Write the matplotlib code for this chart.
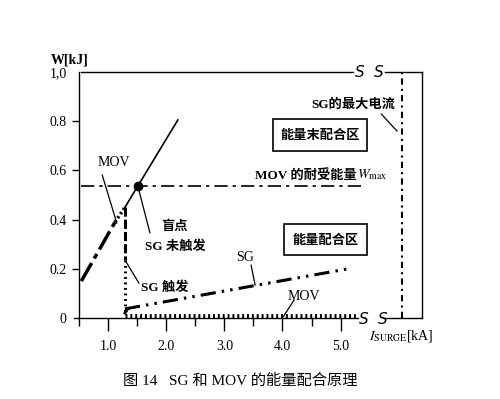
import matplotlib.pyplot as plt

plt.rcParams['font.family'] = ['Liberation Serif', 'Noto Sans CJK SC', 'DejaVu Sans']
plt.rcParams['mathtext.fontset'] = 'stix'

# MOV energy curve (before SG triggers)
mov_x = [0.54, 1.12, 1.29, 2.2]
mov_y = [0.15, 0.39, 0.45, 0.805]
# energy drop when SG fires at I = 1.29 kA
drop_x = 1.29
drop_y = [0.45, 0.235, 0.02]
# SG energy after firing
sg_x = [1.29, 5.2]
sg_y = [0.037, 0.203]
# MOV energy after SG fired
mov_low_x = [1.29, 5.3]
mov_low_y = [0.01, 0.01]
# MOV max energy Wmax and SG max current
w_max = 0.535
w_max_end = 5.38
sg_max_current = 6.06
blind_point = (1.51, 0.535)

x_major = [1.0, 2.0, 3.0, 4.0, 5.0]
x_minor = [0.5, 1.5, 2.5, 3.5, 4.5]
y_major = [0.2, 0.4, 0.6, 0.8]
y_major_labels = ['0.2', '0.4', '0.6', '0.8']

fig = plt.figure(figsize=(5, 3.99), dpi=100)
ax = fig.add_axes([0.158, 0.203, 0.686, 0.6165])
xmin, xmax = 0.54, 6.40
ax.set_xlim(xmin, xmax)
ax.set_ylim(0, 1.0)

for s in ['top', 'right', 'bottom']:
    ax.spines[s].set_visible(False)
ax.spines['left'].set_linewidth(1.0)

# frame with breaks
k = dict(color='black', lw=1.0, clip_on=False)
ax.plot([xmin - 0.12, 5.3], [0, 0], **k)
ax.plot([5.77, xmax], [0, 0], **k)
ax.plot([xmin, 5.22], [1, 1], **k)
ax.plot([5.77, xmax], [1, 1], **k)
ax.plot([xmax, xmax], [0, 1], **k)
for bx in [5.33, 5.66]:
    ax.text(bx, 1.0, 'S', fontsize=11, ha='center', va='center', family='DejaVu Sans', style='italic')
    ax.text(bx + 0.06, -0.008, 'S', fontsize=11, ha='center', va='center', family='DejaVu Sans', style='italic')

ax.set_xticks(x_major)
ax.set_xticklabels(['1.0', '2.0', '3.0', '4.0', '5.0'])
ax.set_xticks(x_minor, minor=True)
ax.tick_params(axis='x', which='major', direction='out', length=9, width=1, pad=7, labelsize=10)
ax.tick_params(axis='x', which='minor', direction='out', length=6, width=1)
ax.set_yticks(y_major)
ax.set_yticklabels(y_major_labels)
ax.set_yticks([0.0, 1.0], minor=True)
ax.set_yticklabels(['0', '1,0'], minor=True)
ax.tick_params(axis='y', which='major', direction='out', length=5, width=1, pad=4, labelsize=10)
ax.tick_params(axis='y', which='minor', length=0, pad=9, labelsize=10)

# MOV curve
ax.plot(mov_x[:2], mov_y[:2], color='black', lw=2.5, dashes=(6, 1.5, 1.5, 1.5))
ax.plot(mov_x[1:3], mov_y[1:3], color='black', lw=2.5, dashes=(0.6, 0.8))
ax.plot(mov_x[2:], mov_y[2:], color='black', lw=1.2)
# drop
ax.plot([drop_x, drop_x], drop_y[:2], color='black', lw=2.2, dashes=(3, 1))
ax.plot([drop_x, drop_x], drop_y[1:], color='black', lw=2.2, dashes=(0.6, 1.2))
ax.plot([drop_x, drop_x + 0.05], [drop_y[2], sg_y[0]], color='black', lw=2)
# SG
ax.plot(sg_x, sg_y, color='black', lw=2.2, dashes=(5, 2, 0.8, 2, 0.8, 2))
# MOV low
ax.plot(mov_low_x, mov_low_y, color='black', lw=3.5, dashes=(0.4, 0.6), solid_capstyle='butt')
# Wmax
ax.plot([xmin, w_max_end], [w_max, w_max], color='black', lw=1.2, dashes=(8, 3, 2, 3))
# SG max current
ax.plot([sg_max_current, sg_max_current], [0, 1], color='black', lw=1.5, dashes=(3, 2, 1, 2))
ax.plot(*blind_point, 'o', color='black', ms=6)

cjk = ['Noto Sans CJK SC']
fs = 9.5
ax.text(1.10, 0.634, 'MOV', fontsize=10, ha='center', va='center')
ax.plot([0.90, 1.15], [0.581, 0.386], color='black', lw=0.9)
ax.text(2.15, 0.374, '盲点', fontsize=fs, ha='center', va='center', family=cjk, weight='bold')
ax.text(2.15, 0.293, 'SG 未触发', fontsize=fs, ha='center', va='center', weight='bold')
ax.plot([1.53, 1.72], [0.52, 0.346], color='black', lw=0.9)
ax.text(1.97, 0.126, 'SG 触发', fontsize=fs, ha='center', va='center', weight='bold')
ax.plot([1.31, 1.53], [0.228, 0.142], color='black', lw=0.9)
ax.text(3.36, 0.244, 'SG', fontsize=10, ha='center', va='center')
ax.plot([3.46, 3.53], [0.215, 0.134], color='black', lw=0.9)
ax.text(4.37, 0.089, 'MOV', fontsize=10, ha='center', va='center')
ax.plot([4.20, 4.01], [0.073, 0.004], color='black', lw=0.9)
ax.text(5.28, 0.581, 'MOV 的耐受能量', fontsize=fs, ha='right', va='center', weight='bold')
ax.text(5.28, 0.581, '$W_{\\rm max}$', fontsize=10, ha='left', va='center')
ax.text(5.22, 0.866, 'SG的最大电流', fontsize=fs, ha='center', va='center', weight='bold')
ax.plot([5.70, 5.97], [0.829, 0.76], color='black', lw=0.9)

ax.add_patch(plt.Rectangle((3.84, 0.679), 1.62, 0.13, fill=False, lw=1.2))
ax.text(4.65, 0.744, '能量末配合区', fontsize=fs, ha='center', va='center', family=cjk, weight='bold')
ax.add_patch(plt.Rectangle((4.03, 0.256), 1.43, 0.126, fill=False, lw=1.2))
ax.text(4.74, 0.319, '能量配合区', fontsize=fs, ha='center', va='center', family=cjk, weight='bold')

ax.text(-0.026, 1.049, 'W[kJ]', fontsize=10, ha='center', va='center', transform=ax.transAxes, weight='bold')
ax.text(6.04, -0.073, '$I_{\\rm SURGE}$[kA]', fontsize=10, ha='center', va='center')

fig.text(0.48, 0.047, '图 14   SG 和 MOV 的能量配合原理', fontsize=11, ha='center', va='center')

fig.savefig('out.png', dpi=100)
